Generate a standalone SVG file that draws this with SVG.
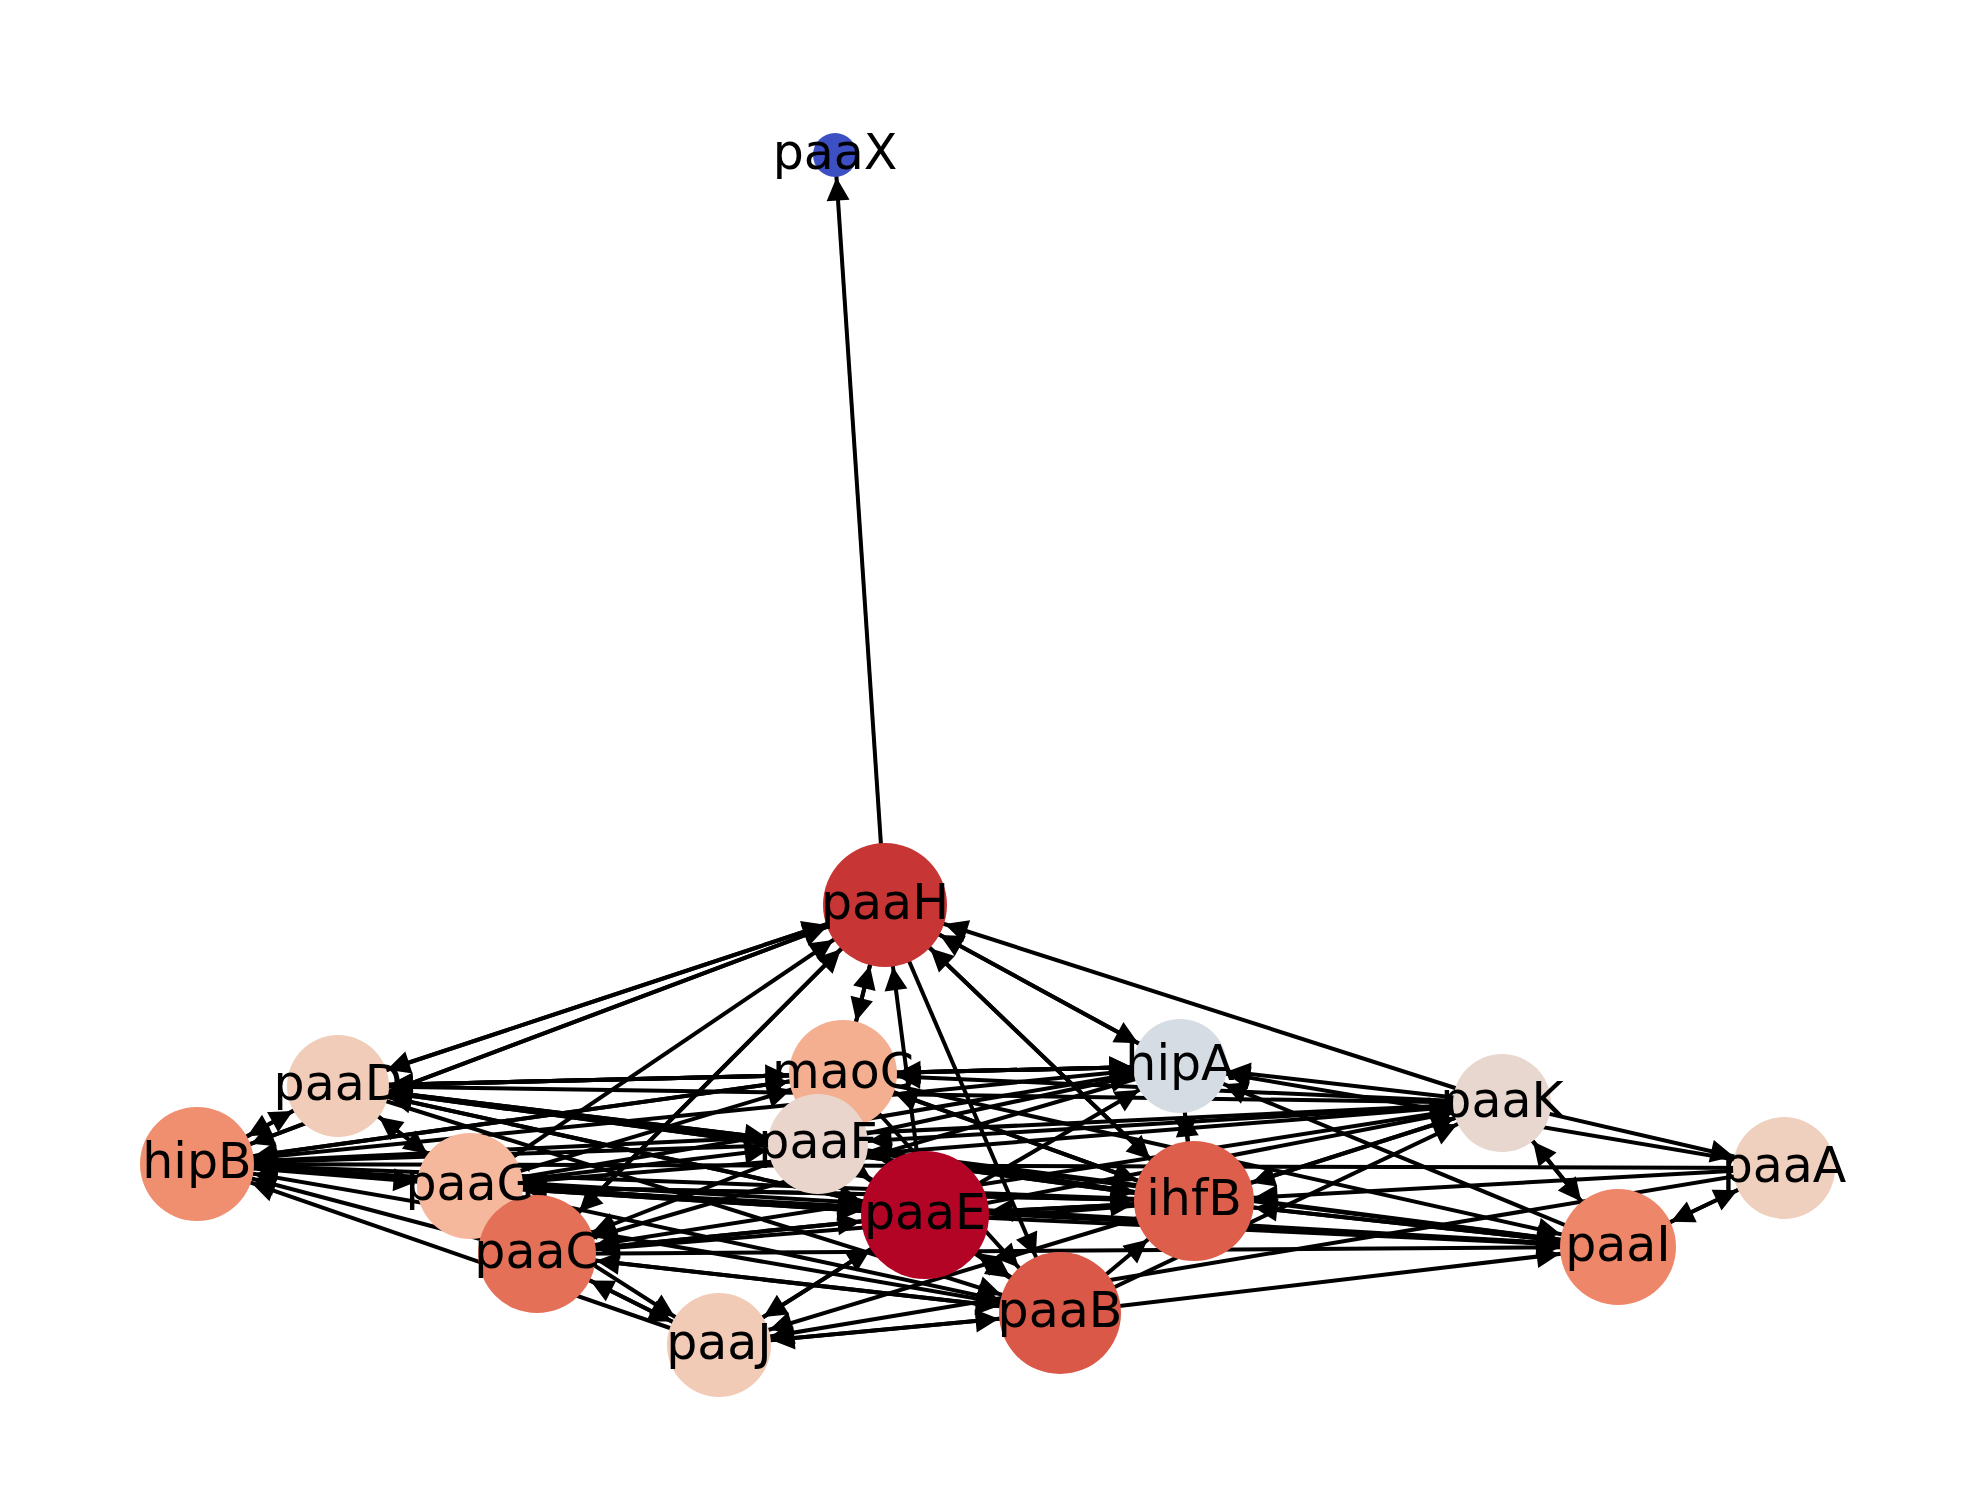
<svg xmlns="http://www.w3.org/2000/svg" width="1980" height="1500" viewBox="0 0 1980 1500">
<style>
#edges line{stroke:#000;stroke-width:4;fill:none}
.ah{fill:#000;stroke:#000;stroke-width:4;stroke-linejoin:miter}
.lbl{font-family:"DejaVu Sans","Liberation Sans",sans-serif;font-size:49px;text-anchor:middle;fill:#000}
</style>
<defs>
<path id="head" class="ah" d="M-16.7,-8.3L0,0L-16.7,8.3Z"/>
<marker id="m-paaX" markerUnits="userSpaceOnUse" orient="auto" refX="27" refY="0" overflow="visible"><use href="#head"/></marker>
<marker id="m-paaH" markerUnits="userSpaceOnUse" orient="auto" refX="67" refY="0" overflow="visible"><use href="#head"/></marker>
<marker id="m-maoC" markerUnits="userSpaceOnUse" orient="auto" refX="59" refY="0" overflow="visible"><use href="#head"/></marker>
<marker id="m-hipA" markerUnits="userSpaceOnUse" orient="auto" refX="52" refY="0" overflow="visible"><use href="#head"/></marker>
<marker id="m-paaK" markerUnits="userSpaceOnUse" orient="auto" refX="54" refY="0" overflow="visible"><use href="#head"/></marker>
<marker id="m-paaA" markerUnits="userSpaceOnUse" orient="auto" refX="56" refY="0" overflow="visible"><use href="#head"/></marker>
<marker id="m-paaD" markerUnits="userSpaceOnUse" orient="auto" refX="56" refY="0" overflow="visible"><use href="#head"/></marker>
<marker id="m-hipB" markerUnits="userSpaceOnUse" orient="auto" refX="62" refY="0" overflow="visible"><use href="#head"/></marker>
<marker id="m-paaG" markerUnits="userSpaceOnUse" orient="auto" refX="58" refY="0" overflow="visible"><use href="#head"/></marker>
<marker id="m-paaF" markerUnits="userSpaceOnUse" orient="auto" refX="55" refY="0" overflow="visible"><use href="#head"/></marker>
<marker id="m-paaE" markerUnits="userSpaceOnUse" orient="auto" refX="69" refY="0" overflow="visible"><use href="#head"/></marker>
<marker id="m-ihfB" markerUnits="userSpaceOnUse" orient="auto" refX="65" refY="0" overflow="visible"><use href="#head"/></marker>
<marker id="m-paaC" markerUnits="userSpaceOnUse" orient="auto" refX="64" refY="0" overflow="visible"><use href="#head"/></marker>
<marker id="m-paaI" markerUnits="userSpaceOnUse" orient="auto" refX="63" refY="0" overflow="visible"><use href="#head"/></marker>
<marker id="m-paaB" markerUnits="userSpaceOnUse" orient="auto" refX="66" refY="0" overflow="visible"><use href="#head"/></marker>
<marker id="m-paaJ" markerUnits="userSpaceOnUse" orient="auto" refX="57" refY="0" overflow="visible"><use href="#head"/></marker>
</defs>
<rect width="1980" height="1500" fill="#fff"/>
<g id="edges">
<line x1="885" y1="905" x2="835" y2="155" marker-end="url(#m-paaX)"/>
<line x1="885" y1="905" x2="338" y2="1086" marker-end="url(#m-paaD)"/>
<line x1="338" y1="1086" x2="885" y2="905" marker-end="url(#m-paaH)"/>
<line x1="197" y1="1164" x2="885" y2="905" marker-end="url(#m-paaH)"/>
<line x1="885" y1="905" x2="197" y2="1164" marker-end="url(#m-hipB)"/>
<line x1="470" y1="1186" x2="885" y2="905" marker-end="url(#m-paaH)"/>
<line x1="537" y1="1254" x2="885" y2="905" marker-end="url(#m-paaH)"/>
<line x1="885" y1="905" x2="537" y2="1254" marker-end="url(#m-paaC)"/>
<line x1="843" y1="1074" x2="885" y2="905" marker-end="url(#m-paaH)"/>
<line x1="885" y1="905" x2="843" y2="1074" marker-end="url(#m-maoC)"/>
<line x1="925" y1="1215" x2="885" y2="905" marker-end="url(#m-paaH)"/>
<line x1="885" y1="905" x2="1060" y2="1313" marker-end="url(#m-paaB)"/>
<line x1="885" y1="905" x2="1194" y2="1201" marker-end="url(#m-ihfB)"/>
<line x1="1194" y1="1201" x2="885" y2="905" marker-end="url(#m-paaH)"/>
<line x1="885" y1="905" x2="1180" y2="1066" marker-end="url(#m-hipA)"/>
<line x1="1180" y1="1066" x2="885" y2="905" marker-end="url(#m-paaH)"/>
<line x1="1502" y1="1103" x2="885" y2="905" marker-end="url(#m-paaH)"/>
<line x1="338" y1="1086" x2="197" y2="1164" marker-end="url(#m-hipB)"/>
<line x1="197" y1="1164" x2="338" y2="1086" marker-end="url(#m-paaD)"/>
<line x1="338" y1="1086" x2="470" y2="1186" marker-end="url(#m-paaG)"/>
<line x1="470" y1="1186" x2="338" y2="1086" marker-end="url(#m-paaD)"/>
<line x1="338" y1="1086" x2="843" y2="1074" marker-end="url(#m-maoC)"/>
<line x1="843" y1="1074" x2="338" y2="1086" marker-end="url(#m-paaD)"/>
<line x1="338" y1="1086" x2="1180" y2="1066" marker-end="url(#m-hipA)"/>
<line x1="1180" y1="1066" x2="338" y2="1086" marker-end="url(#m-paaD)"/>
<line x1="1502" y1="1103" x2="338" y2="1086" marker-end="url(#m-paaD)"/>
<line x1="338" y1="1086" x2="818" y2="1144" marker-end="url(#m-paaF)"/>
<line x1="818" y1="1144" x2="338" y2="1086" marker-end="url(#m-paaD)"/>
<line x1="338" y1="1086" x2="925" y2="1215" marker-end="url(#m-paaE)"/>
<line x1="925" y1="1215" x2="338" y2="1086" marker-end="url(#m-paaD)"/>
<line x1="338" y1="1086" x2="1194" y2="1201" marker-end="url(#m-ihfB)"/>
<line x1="1194" y1="1201" x2="338" y2="1086" marker-end="url(#m-paaD)"/>
<line x1="338" y1="1086" x2="1618" y2="1247" marker-end="url(#m-paaI)"/>
<line x1="338" y1="1086" x2="1060" y2="1313" marker-end="url(#m-paaB)"/>
<line x1="197" y1="1164" x2="470" y2="1186" marker-end="url(#m-paaG)"/>
<line x1="843" y1="1074" x2="197" y2="1164" marker-end="url(#m-hipB)"/>
<line x1="197" y1="1164" x2="843" y2="1074" marker-end="url(#m-maoC)"/>
<line x1="1180" y1="1066" x2="197" y2="1164" marker-end="url(#m-hipB)"/>
<line x1="1502" y1="1103" x2="197" y2="1164" marker-end="url(#m-hipB)"/>
<line x1="818" y1="1144" x2="197" y2="1164" marker-end="url(#m-hipB)"/>
<line x1="1784" y1="1168" x2="197" y2="1164" marker-end="url(#m-hipB)"/>
<line x1="1194" y1="1201" x2="197" y2="1164" marker-end="url(#m-hipB)"/>
<line x1="925" y1="1215" x2="197" y2="1164" marker-end="url(#m-hipB)"/>
<line x1="197" y1="1164" x2="925" y2="1215" marker-end="url(#m-paaE)"/>
<line x1="1618" y1="1247" x2="197" y2="1164" marker-end="url(#m-hipB)"/>
<line x1="537" y1="1254" x2="197" y2="1164" marker-end="url(#m-hipB)"/>
<line x1="1060" y1="1313" x2="197" y2="1164" marker-end="url(#m-hipB)"/>
<line x1="719" y1="1345" x2="197" y2="1164" marker-end="url(#m-hipB)"/>
<line x1="470" y1="1186" x2="843" y2="1074" marker-end="url(#m-maoC)"/>
<line x1="470" y1="1186" x2="1180" y2="1066" marker-end="url(#m-hipA)"/>
<line x1="470" y1="1186" x2="1502" y2="1103" marker-end="url(#m-paaK)"/>
<line x1="470" y1="1186" x2="818" y2="1144" marker-end="url(#m-paaF)"/>
<line x1="470" y1="1186" x2="925" y2="1215" marker-end="url(#m-paaE)"/>
<line x1="925" y1="1215" x2="470" y2="1186" marker-end="url(#m-paaG)"/>
<line x1="470" y1="1186" x2="1194" y2="1201" marker-end="url(#m-ihfB)"/>
<line x1="1194" y1="1201" x2="470" y2="1186" marker-end="url(#m-paaG)"/>
<line x1="470" y1="1186" x2="1618" y2="1247" marker-end="url(#m-paaI)"/>
<line x1="470" y1="1186" x2="1060" y2="1313" marker-end="url(#m-paaB)"/>
<line x1="470" y1="1186" x2="719" y2="1345" marker-end="url(#m-paaJ)"/>
<line x1="537" y1="1254" x2="719" y2="1345" marker-end="url(#m-paaJ)"/>
<line x1="719" y1="1345" x2="537" y2="1254" marker-end="url(#m-paaC)"/>
<line x1="925" y1="1215" x2="537" y2="1254" marker-end="url(#m-paaC)"/>
<line x1="537" y1="1254" x2="925" y2="1215" marker-end="url(#m-paaE)"/>
<line x1="1194" y1="1201" x2="537" y2="1254" marker-end="url(#m-paaC)"/>
<line x1="818" y1="1144" x2="537" y2="1254" marker-end="url(#m-paaC)"/>
<line x1="1180" y1="1066" x2="537" y2="1254" marker-end="url(#m-paaC)"/>
<line x1="1502" y1="1103" x2="537" y2="1254" marker-end="url(#m-paaC)"/>
<line x1="537" y1="1254" x2="1060" y2="1313" marker-end="url(#m-paaB)"/>
<line x1="1060" y1="1313" x2="537" y2="1254" marker-end="url(#m-paaC)"/>
<line x1="537" y1="1254" x2="1618" y2="1247" marker-end="url(#m-paaI)"/>
<line x1="719" y1="1345" x2="925" y2="1215" marker-end="url(#m-paaE)"/>
<line x1="925" y1="1215" x2="719" y2="1345" marker-end="url(#m-paaJ)"/>
<line x1="719" y1="1345" x2="1060" y2="1313" marker-end="url(#m-paaB)"/>
<line x1="1060" y1="1313" x2="719" y2="1345" marker-end="url(#m-paaJ)"/>
<line x1="1194" y1="1201" x2="719" y2="1345" marker-end="url(#m-paaJ)"/>
<line x1="1784" y1="1168" x2="719" y2="1345" marker-end="url(#m-paaJ)"/>
<line x1="1502" y1="1103" x2="1784" y2="1168" marker-end="url(#m-paaA)"/>
<line x1="1502" y1="1103" x2="1618" y2="1247" marker-end="url(#m-paaI)"/>
<line x1="1618" y1="1247" x2="1502" y2="1103" marker-end="url(#m-paaK)"/>
<line x1="1502" y1="1103" x2="1180" y2="1066" marker-end="url(#m-hipA)"/>
<line x1="1502" y1="1103" x2="843" y2="1074" marker-end="url(#m-maoC)"/>
<line x1="1502" y1="1103" x2="818" y2="1144" marker-end="url(#m-paaF)"/>
<line x1="1194" y1="1201" x2="1502" y2="1103" marker-end="url(#m-paaK)"/>
<line x1="925" y1="1215" x2="1502" y2="1103" marker-end="url(#m-paaK)"/>
<line x1="1060" y1="1313" x2="1502" y2="1103" marker-end="url(#m-paaK)"/>
<line x1="1502" y1="1103" x2="1194" y2="1201" marker-end="url(#m-ihfB)"/>
<line x1="1180" y1="1066" x2="1194" y2="1201" marker-end="url(#m-ihfB)"/>
<line x1="1194" y1="1201" x2="1180" y2="1066" marker-end="url(#m-hipA)"/>
<line x1="1180" y1="1066" x2="843" y2="1074" marker-end="url(#m-maoC)"/>
<line x1="843" y1="1074" x2="1180" y2="1066" marker-end="url(#m-hipA)"/>
<line x1="818" y1="1144" x2="1180" y2="1066" marker-end="url(#m-hipA)"/>
<line x1="925" y1="1215" x2="1180" y2="1066" marker-end="url(#m-hipA)"/>
<line x1="1784" y1="1168" x2="1180" y2="1066" marker-end="url(#m-hipA)"/>
<line x1="1618" y1="1247" x2="1180" y2="1066" marker-end="url(#m-hipA)"/>
<line x1="843" y1="1074" x2="1194" y2="1201" marker-end="url(#m-ihfB)"/>
<line x1="1194" y1="1201" x2="843" y2="1074" marker-end="url(#m-maoC)"/>
<line x1="843" y1="1074" x2="1618" y2="1247" marker-end="url(#m-paaI)"/>
<line x1="843" y1="1074" x2="1060" y2="1313" marker-end="url(#m-paaB)"/>
<line x1="818" y1="1144" x2="925" y2="1215" marker-end="url(#m-paaE)"/>
<line x1="818" y1="1144" x2="1194" y2="1201" marker-end="url(#m-ihfB)"/>
<line x1="1194" y1="1201" x2="818" y2="1144" marker-end="url(#m-paaF)"/>
<line x1="818" y1="1144" x2="1060" y2="1313" marker-end="url(#m-paaB)"/>
<line x1="1618" y1="1247" x2="818" y2="1144" marker-end="url(#m-paaF)"/>
<line x1="925" y1="1215" x2="1194" y2="1201" marker-end="url(#m-ihfB)"/>
<line x1="1194" y1="1201" x2="925" y2="1215" marker-end="url(#m-paaE)"/>
<line x1="925" y1="1215" x2="1060" y2="1313" marker-end="url(#m-paaB)"/>
<line x1="1060" y1="1313" x2="925" y2="1215" marker-end="url(#m-paaE)"/>
<line x1="925" y1="1215" x2="1618" y2="1247" marker-end="url(#m-paaI)"/>
<line x1="1194" y1="1201" x2="1618" y2="1247" marker-end="url(#m-paaI)"/>
<line x1="1618" y1="1247" x2="1194" y2="1201" marker-end="url(#m-ihfB)"/>
<line x1="1784" y1="1168" x2="1194" y2="1201" marker-end="url(#m-ihfB)"/>
<line x1="1060" y1="1313" x2="1194" y2="1201" marker-end="url(#m-ihfB)"/>
<line x1="1060" y1="1313" x2="1618" y2="1247" marker-end="url(#m-paaI)"/>
<line x1="1618" y1="1247" x2="1784" y2="1168" marker-end="url(#m-paaA)"/>
<line x1="1784" y1="1168" x2="1618" y2="1247" marker-end="url(#m-paaI)"/>
</g>
<g id="nodes">
<g id="node-paaX"><circle cx="835" cy="155" r="22" fill="#3d50c3"/></g>
<g id="node-paaH"><circle cx="885" cy="905" r="62" fill="#c73635"/></g>
<g id="node-maoC"><circle cx="843" cy="1074" r="54" fill="#f4ae90"/></g>
<g id="node-paaF"><circle cx="818" cy="1144" r="50" fill="#e9d5cb"/></g>
<g id="node-hipA"><circle cx="1180" cy="1066" r="47" fill="#d6dce4"/></g>
<g id="node-paaK"><circle cx="1502" cy="1103" r="49" fill="#e7d7ce"/></g>
<g id="node-paaA"><circle cx="1784" cy="1168" r="51" fill="#efd0be"/></g>
<g id="node-paaD"><circle cx="338" cy="1086" r="51" fill="#f1ccb8"/></g>
<g id="node-hipB"><circle cx="197" cy="1164" r="57" fill="#f08f6f"/></g>
<g id="node-paaG"><circle cx="470" cy="1186" r="53" fill="#f6b89c"/></g>
<g id="node-paaC"><circle cx="537" cy="1254" r="59" fill="#e57058"/></g>
<g id="node-paaE"><circle cx="925" cy="1215" r="64" fill="#b40426"/></g>
<g id="node-ihfB"><circle cx="1194" cy="1201" r="60" fill="#dd5f4b"/></g>
<g id="node-paaI"><circle cx="1618" cy="1247" r="58" fill="#ee8669"/></g>
<g id="node-paaB"><circle cx="1060" cy="1313" r="61" fill="#d95847"/></g>
<g id="node-paaJ"><circle cx="719" cy="1345" r="52" fill="#f2cbb7"/></g>
</g>
<g id="labels">
<text class="lbl" x="835" y="169">paaX</text>
<text class="lbl" x="885" y="919">paaH</text>
<text class="lbl" x="843" y="1088">maoC</text>
<text class="lbl" x="818" y="1158">paaF</text>
<text class="lbl" x="1180" y="1080">hipA</text>
<text class="lbl" x="1502" y="1117">paaK</text>
<text class="lbl" x="1784" y="1182">paaA</text>
<text class="lbl" x="338" y="1100">paaD</text>
<text class="lbl" x="197" y="1178">hipB</text>
<text class="lbl" x="470" y="1200">paaG</text>
<text class="lbl" x="537" y="1268">paaC</text>
<text class="lbl" x="925" y="1229">paaE</text>
<text class="lbl" x="1194" y="1215">ihfB</text>
<text class="lbl" x="1618" y="1261">paaI</text>
<text class="lbl" x="1060" y="1327">paaB</text>
<text class="lbl" x="719" y="1359">paaJ</text>
</g>
</svg>
